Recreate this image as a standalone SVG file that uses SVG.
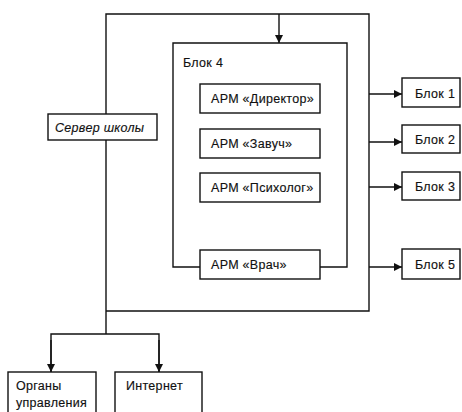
<svg xmlns="http://www.w3.org/2000/svg" width="462" height="412" viewBox="0 0 462 412">
<defs>
<marker id="ah" markerWidth="10" markerHeight="10" refX="9" refY="5" orient="auto" markerUnits="userSpaceOnUse">
<path d="M1,1 L9,5 L1,9 Z" fill="#111"/>
</marker>
<style>
.box{fill:#fff;stroke:#111;stroke-width:1.4}
.ln{fill:none;stroke:#111;stroke-width:1.4}
.t{font-family:"Liberation Sans",Arial,sans-serif;font-size:12.5px;letter-spacing:0.3px;fill:#111;stroke:#111;stroke-width:0.15}
.it{font-style:italic}
</style>
</defs>
<rect width="462" height="412" fill="#fff"/>
<g id="connectors">
<path class="ln" d="M106,334 V14 H369 V311 H106"/>
<path class="ln" d="M279,14 V43" marker-end="url(#ah)"/>
<path class="ln" d="M200,267 H173 V43 H347 V267 H320"/>
<path class="ln" d="M369,94 H402" marker-end="url(#ah)"/>
<path class="ln" d="M369,142 H402" marker-end="url(#ah)"/>
<path class="ln" d="M369,187 H402" marker-end="url(#ah)"/>
<path class="ln" d="M369,267 H402" marker-end="url(#ah)"/>
<path class="ln" d="M51,372 V334 H159 V372" />
<path class="ln" d="M51,340 V372" marker-end="url(#ah)"/>
<path class="ln" d="M159,340 V372" marker-end="url(#ah)"/>
</g>
<g id="server">
<rect class="box" x="48" y="114" width="109" height="26"/>
<text class="t it" x="55" y="131.5">Сервер школы</text>
</g>
<g id="block4">
<text class="t" x="183" y="66.5">Блок 4</text>
</g>
<g id="arm-director">
<rect class="box" x="200" y="84" width="120" height="29"/>
<text class="t" x="211" y="103">АРМ «Директор»</text>
</g>
<g id="arm-zavuch">
<rect class="box" x="200" y="129" width="120" height="29"/>
<text class="t" x="211" y="148">АРМ «Завуч»</text>
</g>
<g id="arm-psiholog">
<rect class="box" x="200" y="173" width="120" height="29"/>
<text class="t" x="211" y="192">АРМ «Психолог»</text>
</g>
<g id="arm-vrach">
<rect class="box" x="200" y="250" width="120" height="29"/>
<text class="t" x="211" y="269">АРМ «Врач»</text>
</g>
<g id="blok1">
<rect class="box" x="402" y="78" width="58" height="29"/>
<text class="t" x="415" y="97.5">Блок 1</text>
</g>
<g id="blok2">
<rect class="box" x="402" y="125" width="58" height="28"/>
<text class="t" x="415" y="144">Блок 2</text>
</g>
<g id="blok3">
<rect class="box" x="402" y="172" width="58" height="28"/>
<text class="t" x="415" y="191">Блок 3</text>
</g>
<g id="blok5">
<rect class="box" x="402" y="249" width="58" height="30"/>
<text class="t" x="415" y="269">Блок 5</text>
</g>
<g id="organy">
<rect class="box" x="8" y="372" width="88" height="50"/>
<text class="t" x="16" y="389.5">Органы</text>
<text class="t" x="16" y="406.5">управления</text>
</g>
<g id="internet">
<rect class="box" x="115" y="372" width="87" height="50"/>
<text class="t" x="126" y="389.5">Интернет</text>
</g>
</svg>
